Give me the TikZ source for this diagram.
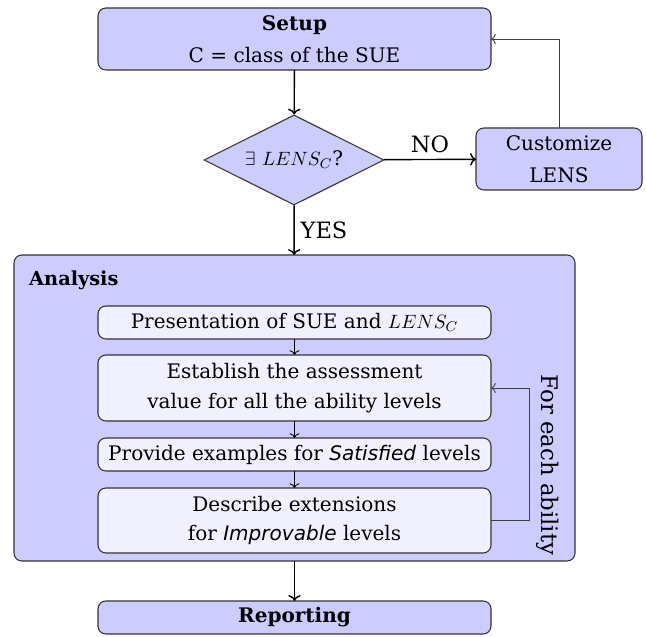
\documentclass[tikz,border=0pt]{standalone}
\usepackage{fontspec}
\setmainfont{DejaVu Serif}[ItalicFont={DejaVu Sans Oblique}]
\usepackage{tikz}
\usetikzlibrary{arrows.meta, calc}
\usetikzlibrary{shapes.geometric}
\definecolor{stepblue}{RGB}{204, 204, 255}
\definecolor{paleblue}{RGB}{240, 240, 255}
\tikzstyle{phase} = [draw=black!80, outer sep=0, inner sep=2,
    rounded corners=4.5, line width=0.6, fill=stepblue,
    minimum width=7.86cm, align=center, font=\fontsize{11.4}{18.5}\selectfont]
\tikzstyle{task} = [draw=black!80, outer sep=0, inner sep=2,
    rounded corners=4.5, line width=0.6, fill=paleblue,
    minimum width=7.86cm, align=center, font=\fontsize{11.4}{17}\selectfont]
\tikzstyle{check} = [diamond, aspect=2, draw=black!80, line width=0.6,
    fill=stepblue, minimum width=3.6cm, minimum height=1.8cm, inner sep=0,
    font=\fontsize{11.4}{14}\selectfont]
\tikzstyle{answer} = [font=\fontsize{12.8}{15}\selectfont]
\tikzstyle{flow} = [->, line width=0.8, black]
\tikzstyle{substep} = [->, line width=0.5, black]
\tikzstyle{back} = [->, line width=0.5, black!75]

\begin{document}
\begin{tikzpicture}

\useasboundingbox (0,0) rectangle (12.92,-12.74);

%%% setup and choice
\node[phase, minimum height=1.24cm] (setup) at (5.89,-0.78) {\textbf{Setup}\\C = class of the SUE};

\node[check] (exists) at (5.88,-3.2) {$\exists\ LENS_C$?};

\node[phase, minimum width=3.32cm, minimum height=1.24cm] (custom) at (11.18,-3.18) {Customize\\LENS};


%%% analysis
\node[phase, minimum width=11.22cm, minimum height=6.12cm] (analysis) at (5.89,-8.16) {};
\node[anchor=west, font=\fontsize{11}{13}\selectfont\bfseries] (atitle) at (0.46,-5.6) {Analysis};

\node[task, minimum height=0.66cm] (present) at (5.89,-6.45) {Presentation of SUE and $LENS_C$};
\node[task, minimum height=1.32cm] (establish) at (5.89,-7.76) {Establish the assessment\\value for all the ability levels};
\node[task, minimum height=0.66cm] (provide) at (5.89,-9.09) {Provide examples for \textit{Satisfied} levels};
\node[task, minimum height=1.30cm] (describe) at (5.89,-10.41) {Describe extensions\\for \textit{Improvable} levels};

\node[rotate=-90, font=\fontsize{13}{15}\selectfont] (each) at (10.96,-9.3) {For each ability};


%%% reporting
\node[phase, minimum height=0.66cm] (report) at (5.89,-12.35) {\textbf{Reporting}};



\draw[flow] (setup) -- (exists);
\draw[flow] (exists) -- node[above, answer] {NO} (custom);
\draw[flow] (exists) -- node[right, answer] {YES} (analysis);
\draw[back] (custom) |- (setup);

\draw[substep] (present) -- (establish);
\draw[substep] (establish) -- (provide);
\draw[substep] (provide) -- (describe);
\draw[back] (describe.east) -- ++(0.76,0) |- (establish.east);

\draw[flow] (analysis) -- (report);

\end{tikzpicture}
\end{document}
